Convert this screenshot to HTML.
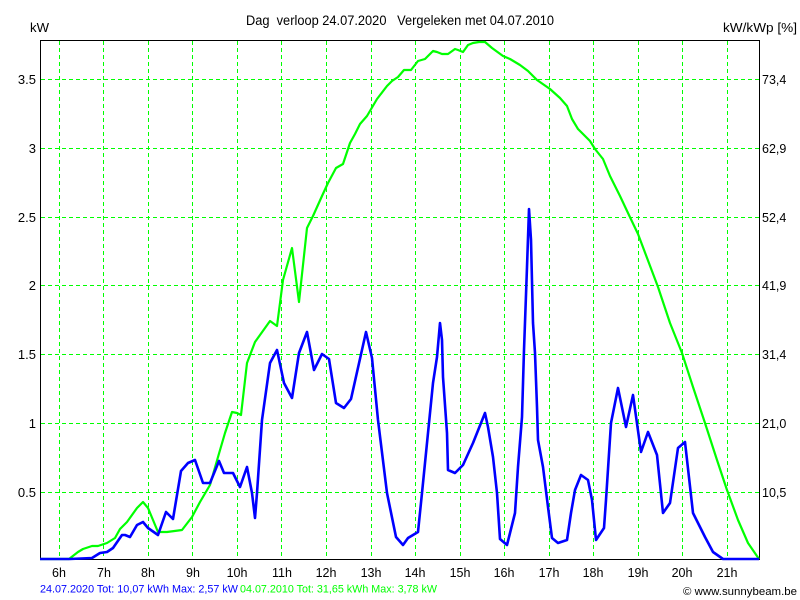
<!DOCTYPE html>
<html>
<head>
<meta charset="utf-8">
<style>
  html,body{margin:0;padding:0;background:#fff;}
  svg{display:block;}
  text{font-family:"Liberation Sans",Arial,sans-serif;}
</style>
</head>
<body>
<svg width="800" height="600" viewBox="0 0 800 600" xmlns="http://www.w3.org/2000/svg">
  <rect x="0" y="0" width="800" height="600" fill="#fff"/>

  <!-- grid -->
  <g stroke="#00ff00" stroke-width="1" stroke-dasharray="4,3" shape-rendering="crispEdges" fill="none">
    <line x1="59.5" y1="41" x2="59.5" y2="559"/>
    <line x1="103.5" y1="41" x2="103.5" y2="559"/>
    <line x1="148.5" y1="41" x2="148.5" y2="559"/>
    <line x1="192.5" y1="41" x2="192.5" y2="559"/>
    <line x1="237.5" y1="41" x2="237.5" y2="559"/>
    <line x1="281.5" y1="41" x2="281.5" y2="559"/>
    <line x1="326.5" y1="41" x2="326.5" y2="559"/>
    <line x1="371.5" y1="41" x2="371.5" y2="559"/>
    <line x1="415.5" y1="41" x2="415.5" y2="559"/>
    <line x1="460.5" y1="41" x2="460.5" y2="559"/>
    <line x1="504.5" y1="41" x2="504.5" y2="559"/>
    <line x1="549.5" y1="41" x2="549.5" y2="559"/>
    <line x1="593.5" y1="41" x2="593.5" y2="559"/>
    <line x1="638.5" y1="41" x2="638.5" y2="559"/>
    <line x1="682.5" y1="41" x2="682.5" y2="559"/>
    <line x1="727.5" y1="41" x2="727.5" y2="559"/>

    <line x1="41" y1="79.5" x2="759" y2="79.5"/>
    <line x1="41" y1="148.5" x2="759" y2="148.5"/>
    <line x1="41" y1="217.5" x2="759" y2="217.5"/>
    <line x1="41" y1="285.5" x2="759" y2="285.5"/>
    <line x1="41" y1="354.5" x2="759" y2="354.5"/>
    <line x1="41" y1="423.5" x2="759" y2="423.5"/>
    <line x1="41" y1="492.5" x2="759" y2="492.5"/>
  </g>

  <!-- frame -->
  <rect x="40.5" y="40.5" width="719" height="519" fill="none" stroke="#000" stroke-width="1" shape-rendering="crispEdges"/>

  <!-- green series (04.07.2010) -->
  <polyline fill="none" stroke="#00ff00" stroke-width="2.2" stroke-linejoin="round"
    points="40,559 69,559 78,552 83,549 92,546 98,546 107,543 115,538 120,529 127,522 137,508 143,502 148,508 153,520 158,532 167,532 182,530 192,517 200,502 210,485 218,457 225,433 232,412 237,413 241,415 247,363 255,342 270,321 277,326 283,280 292,248 299,302 307,228 313,216 322,196 328,183 336,168 343,164 350,143 355,134 360,124 367,116 377,99 387,86 392,81 398,77 404,70 411,70 418,61 425,59 433,51 437,52 442,54 448,54 455,49 458,50 463,52 468,45 473,43 479,42 485,42 492,48 503,56 510,59 520,65 528,71 537,80 550,89 560,98 567,106 572,119 578,129 585,136 590,141 595,149 603,159 610,176 620,196 628,213 638,234 658,287 670,323 682,353 693,387 705,423 717,460 727,490 738,520 748,543 759,559"/>

  <!-- blue series (24.07.2020) -->
  <polyline fill="none" stroke="#0000ff" stroke-width="2.6" stroke-linejoin="round"
    points="40,559 70,559 92,558 100,553 107,552 113,548 122,535 125,535 130,537 137,525 143,522 148,528 158,535 166,512 173,519 181,471 188,463 195,460 203,483 210,483 219,461 224,473 233,473 240,487 247,467 252,493 255,518 257,493 262,420 270,363 277,350 284,383 292,398 299,353 307,332 314,370 322,354 329,359 336,403 344,408 351,399 366,332 372,358 378,420 387,493 396,537 403,545 408,538 418,532 422,493 425,463 430,413 433,383 437,357 440,323 442,340 443,377 447,433 448,470 455,473 463,465 473,443 485,413 488,427 493,457 497,493 500,539 507,545 515,513 518,467 522,417 524,350 527,267 529,209 531,240 533,323 535,353 537,407 538,440 543,467 548,507 552,538 558,543 567,540 571,513 575,490 581,475 588,480 592,500 596,540 604,528 606,500 611,423 618,388 626,427 633,395 641,452 648,432 657,455 663,513 670,503 678,448 685,442 693,513 705,537 713,552 723,559 759,559"/>

  <!-- titles -->
  <text x="246" y="25" font-size="13.5" fill="#000" textLength="308" lengthAdjust="spacingAndGlyphs" xml:space="preserve">Dag  verloop 24.07.2020   Vergeleken met 04.07.2010</text>
  <text x="30" y="32" font-size="13" fill="#000" textLength="19" lengthAdjust="spacingAndGlyphs">kW</text>
  <text x="723" y="32" font-size="13" fill="#000" textLength="74" lengthAdjust="spacingAndGlyphs">kW/kWp [%]</text>

  <!-- left axis labels -->
  <g font-size="13" fill="#000" text-anchor="end">
    <text x="36" y="84">3.5</text>
    <text x="36" y="153">3</text>
    <text x="36" y="222">2.5</text>
    <text x="36" y="290">2</text>
    <text x="36" y="359">1.5</text>
    <text x="36" y="428">1</text>
    <text x="36" y="497">0.5</text>
  </g>

  <!-- right axis labels -->
  <g font-size="12.5" fill="#000">
    <text x="762" y="84">73,4</text>
    <text x="762" y="153">62,9</text>
    <text x="762" y="222">52,4</text>
    <text x="762" y="290">41,9</text>
    <text x="762" y="359">31,4</text>
    <text x="762" y="428">21,0</text>
    <text x="762" y="497">10,5</text>
  </g>

  <!-- x axis labels -->
  <g font-size="12.5" fill="#000" text-anchor="middle">
    <text x="59" y="577">6h</text>
    <text x="104" y="577">7h</text>
    <text x="148" y="577">8h</text>
    <text x="193" y="577">9h</text>
    <text x="237" y="577">10h</text>
    <text x="282" y="577">11h</text>
    <text x="326" y="577">12h</text>
    <text x="371" y="577">13h</text>
    <text x="415" y="577">14h</text>
    <text x="460" y="577">15h</text>
    <text x="504" y="577">16h</text>
    <text x="549" y="577">17h</text>
    <text x="593" y="577">18h</text>
    <text x="638" y="577">19h</text>
    <text x="682" y="577">20h</text>
    <text x="727" y="577">21h</text>
  </g>

  <!-- legend -->
  <text x="40" y="592.5" font-size="11" fill="#0000ff" textLength="198" lengthAdjust="spacingAndGlyphs">24.07.2020 Tot: 10,07 kWh Max: 2,57 kW</text>
  <text x="240" y="592.5" font-size="11" fill="#00ff00" textLength="197" lengthAdjust="spacingAndGlyphs">04.07.2010 Tot: 31,65 kWh Max: 3,78 kW</text>
  <text x="683" y="595" font-size="11" fill="#000" textLength="114" lengthAdjust="spacingAndGlyphs">© www.sunnybeam.be</text>
</svg>
</body>
</html>
